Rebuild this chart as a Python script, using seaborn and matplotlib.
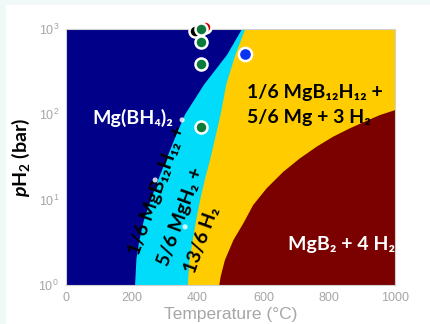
import matplotlib
matplotlib.use("Agg")
import matplotlib.pyplot as plt
import seaborn as sns
from matplotlib.patches import Rectangle

# phase boundaries: pressure (bar) -> temperature (C)
P_BLUE_CYAN = [1, 2, 3.16, 5.6, 10, 17.8, 31.6, 56, 100, 224, 501, 1000]
T_BLUE_CYAN = [210, 214, 222, 236, 258, 282, 308, 334, 362, 420, 490, 535]

P_CYAN_YELLOW = [1, 2, 3.16, 5.6, 10, 17.8, 31.6, 56, 100, 224, 501, 1000]
T_CYAN_YELLOW = [370, 376, 384, 395, 408, 423, 440, 455, 470, 487, 515, 545]

P_YELLOW_RED = [1, 1.25, 1.96, 3.37, 5.28, 8.66, 13.6, 21.3, 30.5,
                41.8, 54.7, 68.6, 84, 98, 112]
T_YELLOW_RED = [466, 470, 483, 509, 539, 569, 610, 661, 711,
                762, 812, 863, 914, 954, 1000]

# experimental points
GREEN_T = [410, 410, 410, 410]
GREEN_P = [1000, 708, 389, 71]
BLACK_T = [392]
BLACK_P = [950]
RED_T = [422]
RED_P = [1050]
BLUE_T = [544]
BLUE_P = [510]
WHITE_T = [353, 271, 362]
WHITE_P = [86, 17, 4.8]

X_TICKS = [0, 200, 400, 600, 800, 1000]
Y_TICKS = [1, 10, 100, 1000]

NAVY = "#000089"
CYAN = "#00dcfa"
YELLOW = "#ffcc00"
MAROON = "#7b0000"

sns.set_style("white")
plt.rcParams["font.family"] = ["Lato", "DejaVu Sans"]
plt.rcParams["mathtext.fontset"] = "custom"
plt.rcParams["mathtext.rm"] = "Lato"
plt.rcParams["mathtext.bf"] = "Lato:bold"
plt.rcParams["mathtext.it"] = "Lato:italic"
plt.rcParams["mathtext.bfit"] = "Lato:bold:italic"

fig = plt.figure(figsize=(4.3, 3.24), dpi=100)
fig.patch.set_facecolor("#f1f8f8")
fig.patches.append(Rectangle((6 / 430, 0), 1, (324 - 5) / 324,
                             transform=fig.transFigure, color="white", zorder=-10))
ax = fig.add_axes([66 / 430, 39 / 324, 329 / 430, 256 / 324])

ax.set_facecolor(NAVY)
ax.set_yscale("log")
ax.set_xlim(0, 1000)
ax.set_ylim(1, 1000)

# layered regions, each filled out to the right edge
ax.fill(T_BLUE_CYAN + [1000, 1000], P_BLUE_CYAN + [1000, 1], color=CYAN, lw=0)
ax.fill(T_CYAN_YELLOW + [1000, 1000], P_CYAN_YELLOW + [1000, 1], color=YELLOW, lw=0)
ax.fill(T_YELLOW_RED + [1000], P_YELLOW_RED + [1], color=MAROON, lw=0)

sns.scatterplot(x=WHITE_T, y=WHITE_P, ax=ax, color="white", s=14, alpha=0.8,
                edgecolor="none", zorder=4)
sns.scatterplot(x=BLACK_T, y=BLACK_P, ax=ax, color="black", s=75,
                edgecolor="white", linewidth=1.8, zorder=5, clip_on=False)
sns.scatterplot(x=RED_T, y=RED_P, ax=ax, color="#cc0000", s=75,
                edgecolor="white", linewidth=1.8, zorder=5, clip_on=False)
sns.scatterplot(x=GREEN_T, y=GREEN_P, ax=ax, color="#0b7a3b", s=75,
                edgecolor="white", linewidth=1.8, zorder=6, clip_on=False)
sns.scatterplot(x=BLUE_T, y=BLUE_P, ax=ax, color="#0a32f0", s=90,
                edgecolor="white", linewidth=1.8, zorder=6, clip_on=False)

lbl = dict(fontsize=14, fontweight="bold")
ax.text(325, 91, "Mg(BH₄)₂", color="white", ha="right", va="center", **lbl)
ax.text(550, 182, "1/6 MgB₁₂H₁₂ +", color="black", ha="left", va="center", **lbl)
ax.text(550, 91, "5/6 Mg + 3 H₂", color="black", ha="left", va="center", **lbl)
ax.text(675, 2.95, "MgB₂ + 4 H₂", color="white", ha="left", va="center", **lbl)
ax.text(277, 13, "1/6 MgB₁₂H₁₂ +", color="black", ha="center", va="center",
        rotation=70, rotation_mode="anchor", **lbl)
ax.text(347, 6.4, "5/6 MgH₂ +", color="black", ha="center", va="center",
        rotation=70, rotation_mode="anchor", **lbl)
ax.text(413, 3.4, "13/6 H₂", color="black", ha="center", va="center",
        rotation=70, rotation_mode="anchor", **lbl)

ax.set_xticks(X_TICKS)
ax.set_yticks(Y_TICKS)
ax.minorticks_off()
ax.tick_params(length=0, colors="#a6a6a6", labelsize=9, pad=5)
for t in ax.get_xticklabels() + ax.get_yticklabels():
    t.set_family(["Liberation Sans", "DejaVu Sans"])
for s in ax.spines.values():
    s.set_color("#d0d0d0")
    s.set_linewidth(0.8)

ax.set_xlabel("Temperature (°C)", color="#a6a6a6", fontsize=12.5,
              family=["Liberation Sans", "DejaVu Sans"], labelpad=2)
ax.set_ylabel(r"$\mathbfit{p}$H$_\mathbf{2}$ (bar)", color="black",
              fontsize=14, fontweight="bold")
ax.yaxis.set_label_coords(-0.103, 0.5)

fig.savefig("out.png", dpi=100, facecolor=fig.get_facecolor())
